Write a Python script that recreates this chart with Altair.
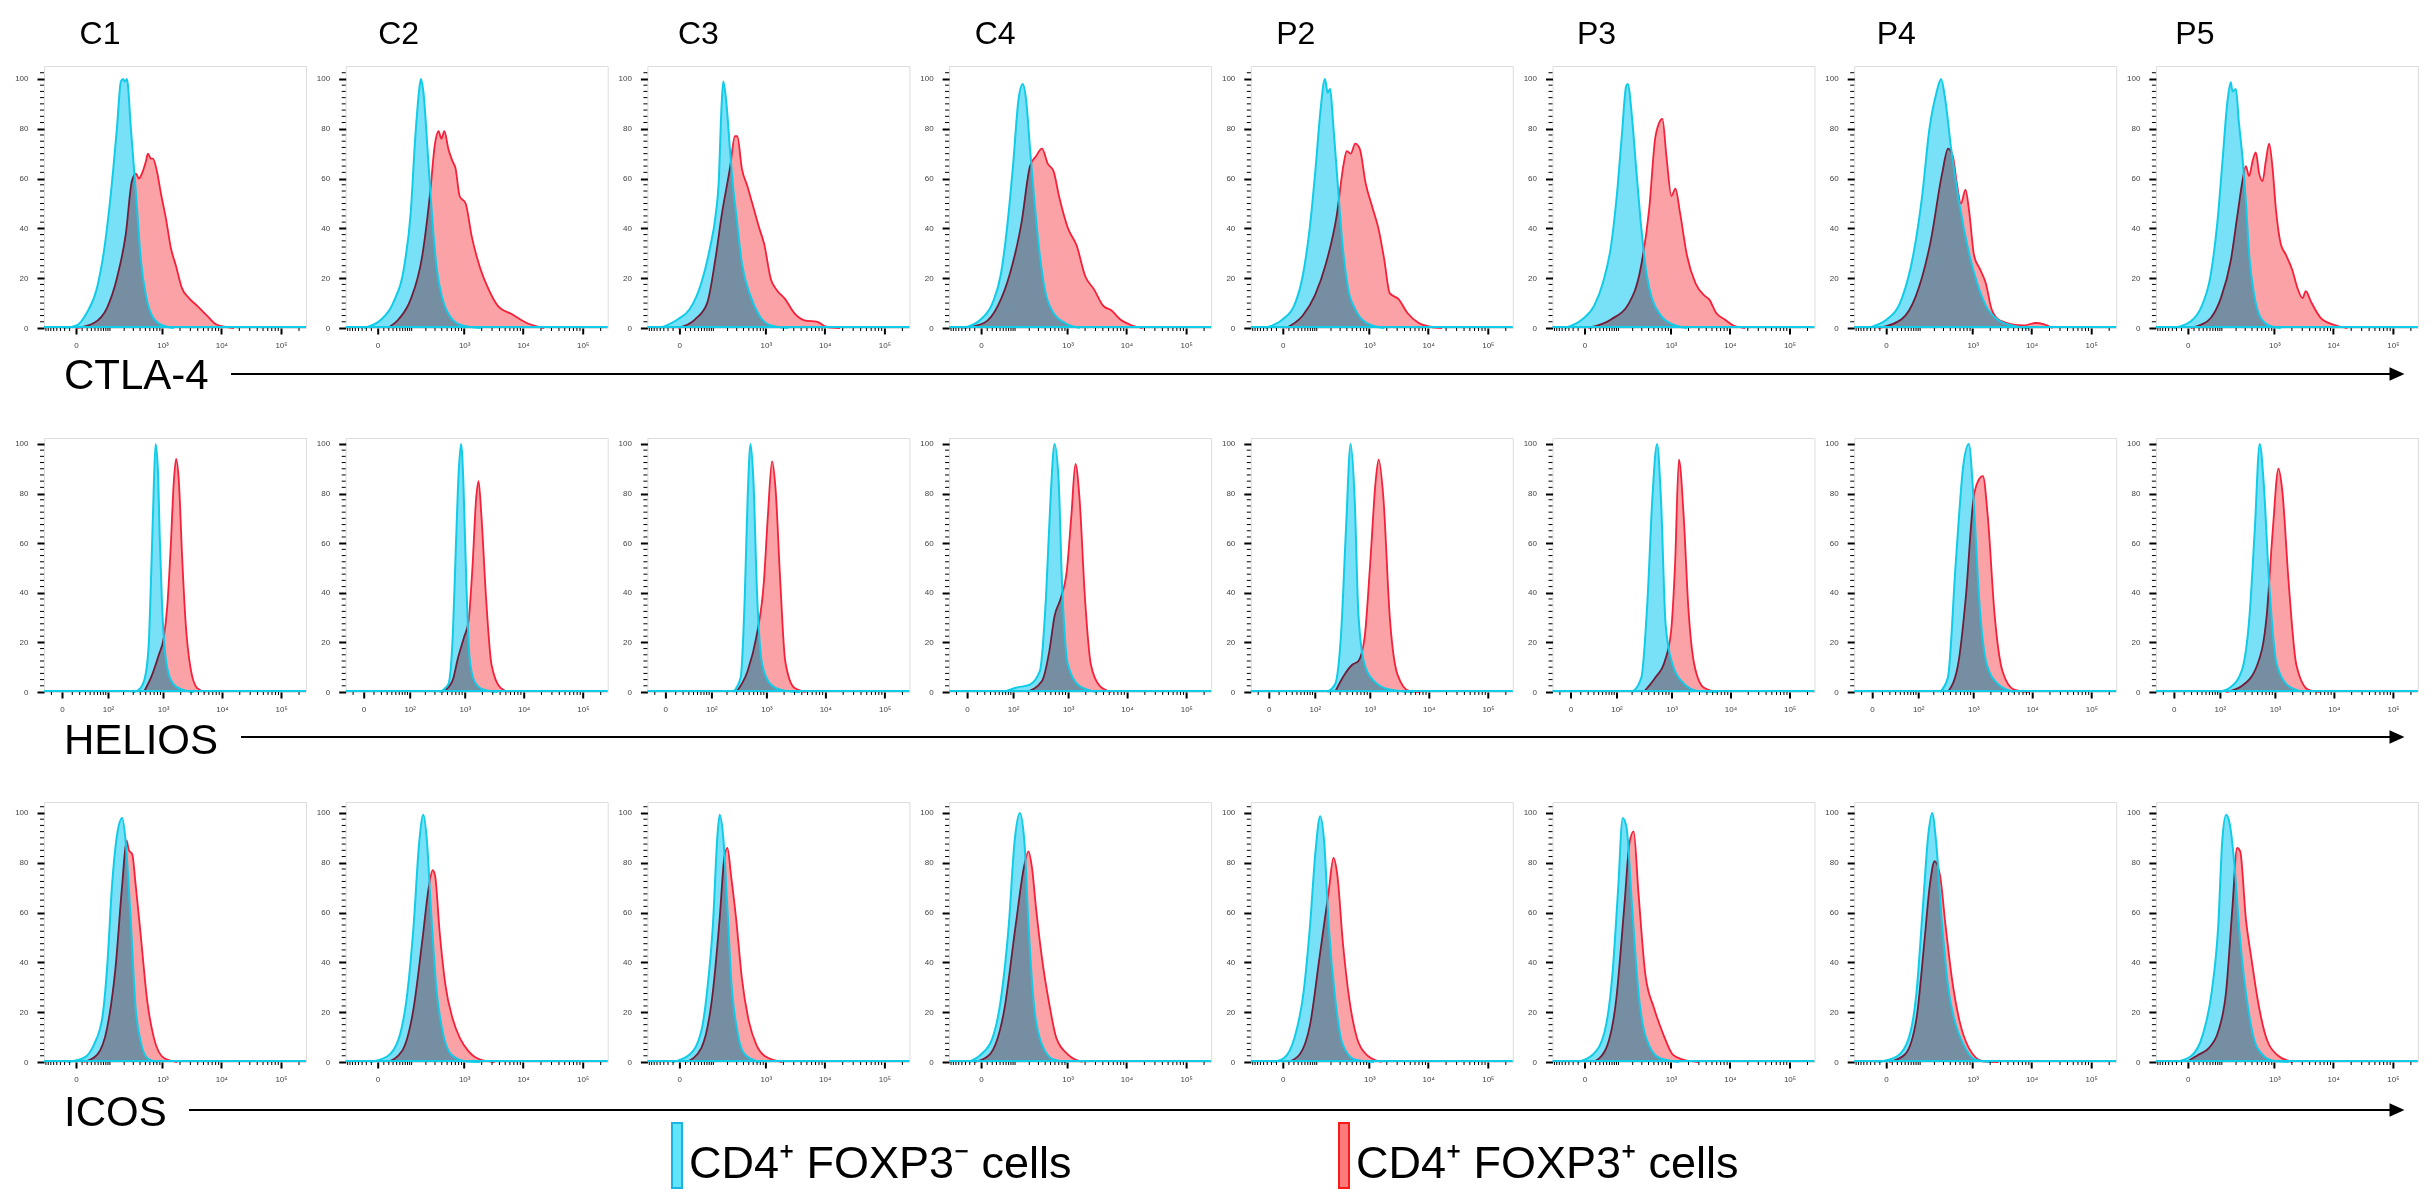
import altair as alt
import pandas as pd

# ---------------- categories / labels ----------------
SAMPLES = ["C1", "C2", "C3", "C4", "P2", "P3", "P4", "P5"]
MARKERS = ["CTLA-4", "HELIOS", "ICOS"]
NEG_LABEL = "CD4⁺ FOXP3⁻ cells"
POS_LABEL = "CD4⁺ FOXP3⁺ cells"

Y_TICKS = [0, 20, 40, 60, 80, 100]
Y_MINOR_TICKS = [i * 2.5 for i in range(1, 42) if i % 8 != 0]

CTLA4_XTICKS = [0, 1000, 10000, 100000]
CTLA4_XLABELS = ["0", "10³", "10⁴", "10⁵"]
HELIOS_XTICKS = [0, 100, 1000, 10000, 100000]
HELIOS_XLABELS = ["0", "10²", "10³", "10⁴", "10⁵"]
ICOS_XTICKS = [0, 1000, 10000, 100000]
ICOS_XLABELS = ["0", "10³", "10⁴", "10⁵"]
X_MINOR_TICKS = [-80, -70, -60, -50, -40, -30, -20, -10, 10, 20, 30, 40, 50, 60, 70, 80, 90,
                 100, 200, 300, 400, 500, 600, 700, 800, 900,
                 2000, 3000, 4000, 5000, 6000, 7000, 8000, 9000,
                 20000, 30000, 40000, 50000, 60000, 70000, 80000, 90000, 200000]

# ---------------- histogram curves: (intensity, % of max) ----------------
# CTLA-4
CTLA4_C1_NEG = [(-22, 0), (1, 1), (19, 6), (46, 16), (72, 31), (105, 54), (142, 80), (172, 99), (189, 100), (207, 99), (226, 100), (270, 80), (336, 54), (415, 27), (511, 13), (653, 5), (940, 1.3), (1575, 0)]
CTLA4_C1_POS = [(1, 0), (37, 2), (85, 8), (142, 20), (216, 38), (282, 59), (336, 62), (381, 60), (432, 62), (511, 67), (555, 70), (627, 68), (680, 68), (800, 63), (940, 54), (1147, 44), (1399, 32), (1705, 25), (2158, 16), (2838, 12), (3880, 9), (5720, 5), (8430, 1.3), (16280, 0)]
CTLA4_C2_NEG = [(-25, 0), (6, 3.5), (30, 10), (68, 26), (95, 46), (120, 76), (147, 96), (159, 100), (178, 95), (220, 69), (270, 42), (322, 24), (415, 11.5), (592, 4), (940, 1), (1918, 0)]
CTLA4_C2_POS = [(17, 0), (46, 3.5), (95, 11.5), (169, 29), (247, 56), (295, 73), (349, 79), (394, 76), (446, 79), (526, 72), (623, 67), (708, 64), (833, 53), (1060, 50), (1345, 37), (1888, 24), (2625, 15.5), (3730, 9), (6540, 5.5), (11500, 2), (22600, 0)]
CTLA4_C3_NEG = [(-40, 0), (-2, 3.5), (18, 7.5), (49, 18), (83, 32), (114, 46), (131, 58), (151, 89), (164, 99), (189, 90.5), (226, 70), (258, 56), (292, 46), (374, 26), (533, 13), (768, 5), (1222, 1), (2427, 0)]
CTLA4_C3_POS = [(-2, 0), (31, 3.5), (71, 10), (114, 29), (151, 45), (226, 65), (277, 77), (308, 77), (374, 64), (470, 57), (578, 50), (768, 40), (928, 34), (1222, 19.5), (1514, 15.5), (2158, 11.5), (3065, 6), (4710, 3), (7500, 2.5), (10560, 0.5), (18060, 0)]
CTLA4_C4_NEG = [(-35, 0), (0, 3.5), (20.5, 10), (43, 22), (63.5, 40), (89.6, 65), (120, 92), (147, 98), (172, 92), (207, 72), (247, 53), (308, 32), (394, 15.5), (566, 6), (903, 2), (1613, 0)]
CTLA4_C4_POS = [(-35, 0), (4.5, 2), (34, 9), (76, 22), (138, 42), (207, 65), (270, 69), (350, 72), (446, 66), (566, 63), (708, 53), (1018, 40), (1439, 33), (1995, 21), (2838, 15.5), (4033, 9), (5610, 7), (7800, 3.5), (12410, 1), (18720, 0)]
CTLA4_P2_NEG = [(-35, 0), (0, 3.5), (20.5, 9), (43, 21), (67.5, 40), (95, 65), (120, 86.5), (151, 100), (172, 94.5), (193, 96), (220, 82.5), (270, 58), (331, 34), (424, 15.5), (566, 7.5), (903, 2), (1808, 0)]
CTLA4_P2_POS = [(4.5, 0), (43, 5), (90, 13), (159, 26), (258, 45), (350, 66), (398, 71), (470, 70), (566, 74), (680, 72), (867, 58), (1147, 48), (1439, 40), (1808, 27.5), (2245, 14), (3190, 11.5), (4480, 6), (6940, 2), (11050, 0.5), (17100, 0)]
CTLA4_P3_NEG = [(-41, 0), (-3, 3.5), (17, 9), (38, 18), (67.5, 34), (95, 56), (120, 78), (147, 97), (159, 98), (193, 85), (232, 65), (282, 44), (365, 22), (466, 11.5), (666, 5), (1060, 1.5), (1888, 0)]
CTLA4_P3_POS = [(6, 0), (67.5, 3.5), (169, 10), (282, 23.5), (410, 47.6), (526, 76), (623, 82.5), (708, 84), (833, 69), (1018, 53), (1193, 56), (1439, 46), (1888, 29), (2625, 18), (3730, 13), (4480, 11.5), (5900, 6), (8120, 3.5), (11500, 1), (17870, 0)]
CTLA4_P4_NEG = [(-41, 0), (1.4, 3.5), (30, 11.5), (67.5, 29), (111, 53), (159, 80), (220, 94.5), (270, 100), (322, 92), (415, 72), (592, 49), (833, 31.6), (1193, 18), (1683, 9), (2625, 3.5), (4710, 1), (9110, 0)]
CTLA4_P4_POS = [(-13, 0), (30, 3.5), (80, 13), (169, 35), (282, 62), (365, 72), (446, 69), (526, 58), (623, 50), (750, 55.6), (860, 47.6), (1060, 29), (1345, 23.5), (1683, 18), (2117, 7.5), (2951, 3), (7330, 1), (11500, 2), (16150, 1.5), (22600, 0)]
CTLA4_P5_NEG = [(-26, 0), (4.5, 2.7), (24, 8), (52.5, 21.5), (79, 43), (103.5, 67), (133, 91), (156, 98.7), (169.5, 95), (198, 96), (226, 83), (266, 68.5), (308, 51), (355, 29.5), (438, 13.4), (578, 4), (867, 0.7), (1293, 0)]
CTLA4_P5_POS = [(4.5, 0), (24, 1.3), (52.5, 4), (95, 12), (156, 27), (213.5, 45.6), (266, 59), (308, 65), (355, 61), (410, 67), (470, 70.5), (540, 62), (620, 59), (708, 67), (810, 74), (928, 64.4), (1060, 48), (1293, 33.6), (1575, 29.5), (2051, 23), (2490, 16), (3030, 12), (3450, 14.8), (4190, 10.7), (6180, 4), (10230, 1.3), (17230, 0)]

# HELIOS
HELIOS_C1_NEG = [(307, 0), (405, 1.6), (496, 7), (566, 20), (621, 47), (673, 74), (741, 100), (811, 90), (879, 61), (963, 34), (1060, 18), (1254, 7), (1528, 3), (2090, 1), (3346, 0)]
HELIOS_C1_POS = [(463, 0), (647, 7), (844, 15), (1030, 22), (1174, 34), (1342, 57), (1528, 85), (1672, 94), (1860, 85), (2120, 54), (2418, 28.5), (2938, 9.7), (3804, 1.6), (5278, 0)]
HELIOS_C2_NEG = [(362, 0), (516, 3), (624, 24.5), (700, 58), (786, 89), (862, 100), (944, 85), (1059, 44.7), (1206, 14), (1457, 4.4), (2052, 1), (3616, 0)]
HELIOS_C2_POS = [(410, 0), (609, 4.4), (768, 14), (967, 22), (1160, 28.6), (1358, 51), (1564, 78), (1720, 85), (1919, 71.5), (2308, 38), (2860, 11), (4066, 1.7), (5708, 0)]
HELIOS_C3_NEG = [(260, 0), (354, 5.8), (418, 38), (470, 78), (529, 100), (594, 85), (684, 40.7), (844, 11), (1187, 3), (1860, 0.7), (3702, 0)]
HELIOS_C3_POS = [(293, 0), (470, 8.5), (665, 22), (903, 44.7), (1059, 71.5), (1245, 93), (1429, 82), (1720, 44.7), (2090, 12.5), (2976, 1.7), (4642, 0)]
HELIOS_C4_NEG = [(64, 0), (113, 1.7), (211, 3), (320, 8.5), (410, 38), (494, 78), (580, 100), (684, 85), (780, 44.7), (990, 11), (1564, 2.4), (3094, 0)]
HELIOS_C4_POS = [(185, 0), (348, 4.4), (470, 16.5), (580, 30.6), (749, 38), (944, 48.7), (1137, 71.5), (1331, 92), (1564, 78), (1934, 38), (2446, 11), (3478, 2.4), (5448, 0)]
HELIOS_P2_NEG = [(175, 0), (243, 3), (315, 24.5), (382, 65), (463, 100), (544, 78), (634, 31), (811, 11), (1178, 4.4), (2176, 1), (5450, 0)]
HELIOS_P2_POS = [(243, 0), (359, 7), (494, 11), (634, 12.5), (811, 22), (1009, 51.4), (1255, 85), (1412, 93.7), (1706, 78), (2176, 31), (2964, 7), (4680, 0.4), (7296, 0)]
HELIOS_P3_NEG = [(200, 0), (295, 5.8), (382, 38), (463, 78), (560, 100), (654, 78), (789, 27), (1042, 11), (1558, 3.8), (2860, 0.4), (6146, 0)]
HELIOS_P3_POS = [(326, 0), (523, 5.8), (764, 12.5), (980, 24.5), (1146, 51.4), (1336, 93.7), (1605, 71.5), (1934, 34), (2446, 11), (3562, 1.7), (6146, 0)]
HELIOS_P4_NEG = [(259, 0), (360, 5.8), (494, 51.4), (675, 91.7), (838, 100), (1009, 78), (1255, 38), (1706, 11), (2698, 3), (4940, 0)]
HELIOS_P4_POS = [(360, 0), (544, 11), (741, 38), (1009, 78), (1206, 85), (1463, 87), (1760, 71.5), (2316, 31), (3142, 8.5), (4940, 1), (9140, 0)]
HELIOS_P5_NEG = [(93, 0), (156, 1.7), (260, 8.5), (360, 31), (444, 65), (544, 100), (634, 85), (789, 44.7), (1071, 11), (1706, 2.4), (3142, 0)]
HELIOS_P5_POS = [(132, 0), (260, 2.4), (494, 11), (720, 31), (914, 65), (1146, 90), (1336, 81), (1706, 44.7), (2316, 11), (3660, 1), (5774, 0)]

# ICOS
ICOS_C1_NEG = [(-15, 0), (13, 1.6), (37, 7), (65, 17.7), (86, 38), (112, 71.4), (144, 91.5), (183, 98), (213, 89), (266, 58), (331, 21.7), (410, 8.3), (540, 1.6), (810, 0)]
ICOS_C1_POS = [(13, 0), (47, 3), (86, 13.7), (133, 38), (183, 71.4), (223, 89), (247, 85), (286, 83.5), (331, 71.4), (410, 51.3), (540, 24.4), (708, 9.7), (1060, 1.6), (1795, 0)]
ICOS_C2_NEG = [(-12.5, 0), (17, 2.3), (47, 9.6), (80, 28.4), (111, 55), (147, 88.6), (178, 99.3), (210, 88.6), (250, 62), (322, 28.4), (415, 12.3), (592, 3), (1060, 0.3), (1888, 0)]
ICOS_C2_POS = [(17, 0), (57, 4.3), (111, 21.7), (169, 48.5), (232, 71.2), (270, 77), (300, 75), (365, 52.5), (466, 31), (623, 17.7), (843, 9.6), (1193, 4.3), (1888, 1), (3318, 0)]
ICOS_C3_NEG = [(-11, 0), (18, 3), (49, 12.3), (70.7, 28.4), (97.7, 55), (123.8, 91.3), (138, 99.3), (164, 90), (198, 62), (236.6, 32.4), (308, 12.3), (424, 3), (768, 0)]
ICOS_C3_POS = [(12.3, 0), (49, 5.6), (97.7, 28.4), (138, 57.8), (172, 82), (198, 86), (236.6, 74), (291.5, 57.8), (374, 33.7), (502, 16.3), (680, 7), (970, 2.3), (1918, 0)]
ICOS_C4_NEG = [(-22, 0), (0, 3), (20.5, 9.6), (43, 25.7), (70.7, 55), (97.7, 88.6), (127.6, 100), (159, 88.6), (193, 55), (250, 21.7), (349, 7), (566, 1), (1018, 0)]
ICOS_C4_POS = [(-9.6, 0), (14.5, 3), (52.5, 20.3), (103.5, 55), (159, 79), (193, 84.6), (226, 78), (270, 62), (349, 41.8), (478, 23), (637, 9.6), (1018, 3), (1808, 0)]
ICOS_P2_NEG = [(-17, 0), (2, 1.6), (21, 9.6), (45.9, 28.4), (69, 55), (93.6, 84.6), (119.6, 98.7), (145, 88.6), (180, 55), (241, 25.7), (336, 7), (555, 1), (1210, 0)]
ICOS_P2_POS = [(8.7, 0), (34, 3), (69, 15), (115, 41.8), (180, 68.5), (224, 82), (266, 75), (336, 48.5), (440, 25.7), (608, 9.6), (888, 3), (1638, 0)]
ICOS_P3_NEG = [(-11, 0), (14.5, 3), (43.7, 12.3), (71.5, 35), (97.7, 68.5), (124.5, 98), (150.6, 94), (194.8, 62), (258, 28.4), (361, 9.6), (627, 1.6), (1380, 0)]
ICOS_P3_POS = [(14.5, 0), (43.7, 4.3), (89.6, 25.7), (134, 62), (174.6, 88.6), (209.5, 92.6), (258, 68.5), (350, 35), (502, 21.7), (738, 11), (1073, 3), (1607, 1), (2951, 0)]
ICOS_P4_NEG = [(-14.5, 0), (19.4, 2.3), (51.5, 9.6), (82.5, 28.4), (115, 62), (150.6, 91.3), (180, 100), (216, 88.6), (276, 57.8), (361, 31), (502, 15), (692, 7), (1102, 1), (2051, 0)]
ICOS_P4_POS = [(4.5, 0), (39.2, 3), (82.5, 17.7), (124.5, 48.5), (162.5, 71.2), (202, 80.6), (257, 75), (327, 55), (428, 33.7), (590, 16.3), (860, 5.6), (1514, 0.3), (2784, 0)]
ICOS_P5_NEG = [(-23, 0), (4.5, 2.3), (28.9, 11), (56, 28.4), (82.5, 55), (102, 88.6), (124.5, 99.3), (150.6, 95), (180, 82), (241, 48.5), (339, 21.7), (502, 5.6), (940, 0.5), (1759, 0)]
ICOS_P5_POS = [(-1.4, 0), (19.4, 3), (45.9, 5.6), (82.5, 12.3), (124.5, 28.4), (168.8, 62), (209.5, 86), (241, 84.6), (308, 57.8), (398, 40.4), (502, 25.7), (692, 11), (1102, 3), (2051, 0)]

# ---------------- styling / layout ----------------
FONT = "Liberation Sans"
CYAN_FILL = "#78e0f7"
CYAN_LINE = "#10cce8"
RED_FILL = "#faa2a6"
RED_LINE = "#f5203a"
LEG_CYAN_FILL = "#62e4fb"
LEG_CYAN_STROKE = "#18b4e4"
LEG_RED_FILL = "#ff7a7a"
LEG_RED_STROKE = "#ff1a1a"

W = 262
X_MAX = 262143
ROW_CFG = {
    "CTLA-4": dict(h=262, ymax=105.2, xmin=-89, c=36.8, ticks=CTLA4_XTICKS, labels=CTLA4_XLABELS,
                   lab_y=323, arr_y=308, arr_x=187),
    "HELIOS": dict(h=254, ymax=102.4, xmin=-20, c=20, ticks=HELIOS_XTICKS, labels=HELIOS_XLABELS,
                   lab_y=316, arr_y=299, arr_x=197),
    "ICOS": dict(h=260, ymax=104.4, xmin=-89, c=36.8, ticks=ICOS_XTICKS, labels=ICOS_XLABELS,
                 lab_y=324, arr_y=308, arr_x=145),
}
HEADER_DX = [56, 53, 51, 46, 45, 44, 42, 39]
ARROW_END = 2347
ARROW_TIP_C = 2353

CURVES = {}
for m, prefix in zip(MARKERS, ["CTLA4", "HELIOS", "ICOS"]):
    for s in SAMPLES:
        CURVES[(m, s)] = (globals()[f"{prefix}_{s}_NEG"], globals()[f"{prefix}_{s}_POS"])


def label_expr(ticks, labels):
    e = ""
    for t, l in zip(ticks, labels):
        e += f"datum.value == {t} ? '{l}' : "
    return e + "''"


def make_panel(marker, sample, col, row):
    cfg = ROW_CFG[marker]
    H = cfg["h"]
    neg, pos = CURVES[(marker, sample)]
    df = pd.DataFrame({
        "x": [p[0] for p in neg] + [p[0] for p in pos],
        "y": [p[1] for p in neg] + [p[1] for p in pos],
        "s": ["neg"] * len(neg) + ["pos"] * len(pos),
    })
    xscale = alt.Scale(type="symlog", constant=cfg["c"], domain=[cfg["xmin"], X_MAX], nice=False, zero=False)
    yscale = alt.Scale(domain=[0, cfg["ymax"]], nice=False, zero=True)
    xaxis = alt.Axis(values=cfg["ticks"], labelExpr=label_expr(cfg["ticks"], cfg["labels"]), title=None,
                     grid=False, domain=False, tickSize=6, tickWidth=2, tickColor="black",
                     labelFontSize=8, labelColor="#444444", labelPadding=7, labelFlush=False,
                     labelOverlap=False, labelFont=FONT)
    yaxis = alt.Axis(values=Y_TICKS, title=None, grid=False, domain=False, tickSize=7, tickWidth=2,
                     tickColor="black", labelFontSize=8, labelColor="#444444", labelPadding=9,
                     labelFont=FONT)
    X = alt.X("x:Q", scale=xscale, axis=xaxis)
    Y = alt.Y("y:Q", scale=yscale, axis=yaxis)
    base = alt.Chart(df)
    red = base.transform_filter("datum.s == 'pos'")
    cyan = base.transform_filter("datum.s == 'neg'")
    layers = [
        red.mark_area(interpolate="monotone", color=RED_FILL).encode(x=X, y=Y),
        red.mark_line(interpolate="monotone", color=RED_LINE, strokeWidth=1.8).encode(x=X, y=Y),
        cyan.mark_area(interpolate="monotone", color=CYAN_FILL, blend="multiply").encode(x=X, y=Y),
        alt.Chart(pd.DataFrame({"b": [0]})).mark_rule(color=CYAN_LINE, strokeWidth=2).encode(
            x=alt.value(0), x2=alt.value(W), y=alt.value(H - 1)),
        cyan.mark_line(interpolate="monotone", color=CYAN_LINE, strokeWidth=2).encode(x=X, y=Y),
    ]
    ym = [v for v in Y_MINOR_TICKS if v < cfg["ymax"]]
    layers.append(alt.Chart(pd.DataFrame({"v": ym})).mark_rule(color="black", strokeWidth=1).encode(
        y=alt.Y("v:Q", scale=yscale, axis=yaxis), x=alt.value(-4), x2=alt.value(0)))
    xm = [v for v in X_MINOR_TICKS if v > cfg["xmin"] and v not in cfg["ticks"]]
    layers.append(alt.Chart(pd.DataFrame({"v": xm})).mark_rule(color="black", strokeWidth=1).encode(
        x=alt.X("v:Q", scale=xscale, axis=xaxis), y=alt.value(H), y2=alt.value(H + 3)))

    if row == 0:
        layers.append(alt.Chart(pd.DataFrame({"t": [sample]})).mark_text(
            font=FONT, fontSize=32, align="center", baseline="alphabetic", color="black").encode(
            text="t:N", x=alt.value(HEADER_DX[col]), y=alt.value(-22)))
    if col == 0:
        lab = pd.DataFrame({"t": [marker]})
        layers.append(alt.Chart(lab).mark_text(font=FONT, fontSize=42, align="left", baseline="alphabetic",
                                               color="black").encode(
            text="t:N", x=alt.value(20), y=alt.value(cfg["lab_y"])))
        layers.append(alt.Chart(lab).mark_rule(color="black", strokeWidth=2).encode(
            x=alt.value(cfg["arr_x"]), x2=alt.value(ARROW_END), y=alt.value(cfg["arr_y"])))
        layers.append(alt.Chart(lab).mark_point(shape="M-1,-0.9L1,0L-1,0.9Z", filled=True, color="black",
                                                opacity=1, size=225).encode(
            x=alt.value(ARROW_TIP_C), y=alt.value(cfg["arr_y"])))
    if col == 0 and row == 0:
        # white pixel that pins the top-left corner of the drawing
        layers.append(alt.Chart(pd.DataFrame({"a": [0]})).mark_point(filled=True, color="white", size=1,
                                                                     opacity=1).encode(
            x=alt.value(-35), y=alt.value(-57)))
    if col == 0 and row == 2:
        leg = pd.DataFrame({"t": [NEG_LABEL, POS_LABEL], "fill": [LEG_CYAN_FILL, LEG_RED_FILL],
                            "stroke": [LEG_CYAN_STROKE, LEG_RED_STROKE]})
        for i, (x0, tx) in enumerate([(628, 645), (1295, 1312)]):
            one = leg.iloc[[i]]
            layers.append(alt.Chart(one).mark_rect(fill=one["fill"].iloc[0], stroke=one["stroke"].iloc[0],
                                                   strokeWidth=2).encode(
                x=alt.value(x0), x2=alt.value(x0 + 10), y=alt.value(321), y2=alt.value(386)))
            layers.append(alt.Chart(one).mark_text(font=FONT, fontSize=45, align="left", baseline="alphabetic",
                                                   color="black").encode(
                text="t:N", x=alt.value(tx), y=alt.value(376)))

    return alt.layer(*layers).properties(width=W, height=H)


panels = []
for r, m in enumerate(MARKERS):
    for c, s in enumerate(SAMPLES):
        panels.append(make_panel(m, s, c, r))

chart = alt.concat(*panels, columns=8, spacing={"row": 110, "column": 39.7}, bounds="flush",
                   align="each").properties(padding=0)
chart = chart.configure_view(stroke="#a3a3a3", strokeWidth=1).configure(font=FONT)

chart.save("out.html", embed_options={"renderer": "svg", "actions": False})
